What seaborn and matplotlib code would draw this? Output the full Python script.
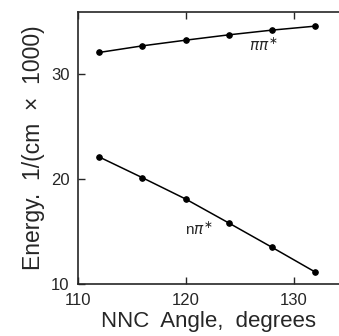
import pandas as pd
import matplotlib
matplotlib.use("Agg")
import matplotlib.pyplot as plt
import seaborn as sns

angles = [112, 116, 120, 124, 128, 132]
pipi_energy = [32.07, 32.70, 33.24, 33.75, 34.20, 34.58]
npi_energy = [22.09, 20.11, 18.08, 15.79, 13.47, 11.11]

df = pd.DataFrame({
    "angle": angles * 2,
    "energy": pipi_energy + npi_energy,
    "state": ["pipi"] * len(angles) + ["npi"] * len(angles),
})

sns.set_style("ticks")
plt.rcParams["font.family"] = ["Liberation Sans", "DejaVu Sans"]

fig = plt.figure(figsize=(3.39, 3.36), dpi=100)
ax = fig.add_axes([77.7 / 339, 1 - 283.7 / 336, (339 - 77.7) / 339, (283.7 - 12.3) / 336])

sns.lineplot(data=df, x="angle", y="energy", units="state", estimator=None,
             color="black", linewidth=1.1, marker="o", markersize=4,
             markeredgecolor="black", ax=ax)

ax.text(127.2, 32.7, r"$\pi\pi^{\ast}$", fontsize=11, ha="center", va="center")
ax.text(121.2, 15.2, r"n$\pi^{\ast}$", fontsize=11, ha="center", va="center")

ax.set_xlim(110, 134.2)
ax.set_ylim(10, 35.9)
ax.set_xticks([110, 120, 130])
ax.set_yticks([10, 20, 30])
ax.tick_params(direction="in", length=5, width=1, labelsize=12, top=True, right=False)
ax.tick_params(axis="x", pad=7)
ax.tick_params(axis="y", pad=6)
for s in ["left", "bottom", "top"]:
    ax.spines[s].set_linewidth(1.2)
ax.spines["right"].set_visible(False)

ax.set_xlabel("NNC  Angle,  degrees", fontsize=16, labelpad=2)
ax.set_ylabel("Energy.  1/(cm  ×  1000)", fontsize=16.5, labelpad=4)

fig.savefig("out.png", dpi=100)
